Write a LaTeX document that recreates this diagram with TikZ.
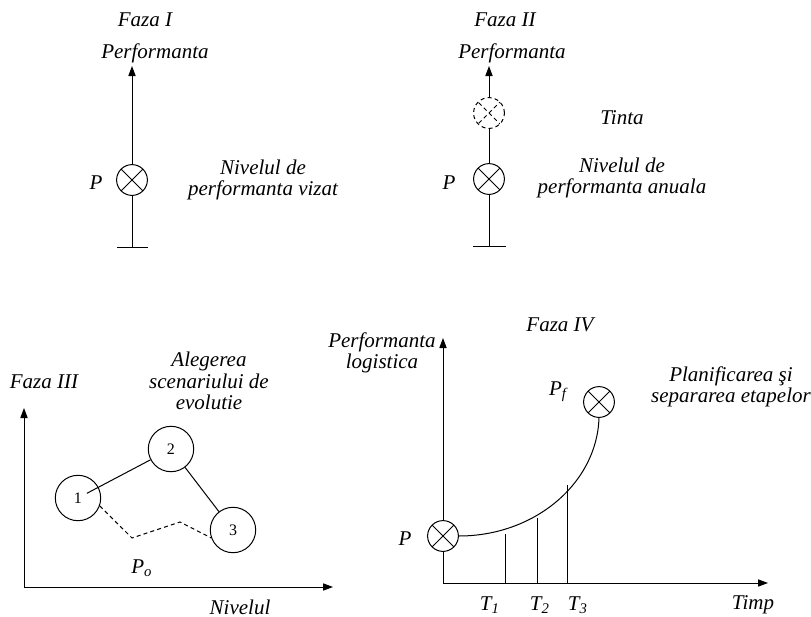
\documentclass[tikz,border=0pt]{standalone}
\usepackage{fontspec}
\setmainfont{Liberation Serif}
\usetikzlibrary{arrows.meta}

\begin{document}
\begin{tikzpicture}[x=0.5pt, y=-0.5pt, >={Triangle[length=5pt,width=3.6pt]},
    line width=0.5pt,
    every node/.style={font=\itshape\fontsize{10.5}{10.8}\selectfont, align=center},
    dashline/.style={dash pattern=on 2pt off 1.6pt},
    xcirc/.style={circle, draw, inner sep=0pt, minimum size=15.4pt,
      path picture={\draw[#1] (path picture bounding box.south west) -- (path picture bounding box.north east)
                              (path picture bounding box.north west) -- (path picture bounding box.south east);}},
    xcirc/.default=solid,
    numcirc/.style={circle, draw, inner sep=0pt, minimum size=22.7pt,
      font=\upshape\fontsize{8}{9}\selectfont}]
    \useasboundingbox (0,0) rectangle (811,617);

    % Faza I
    \node (faza1) at (145,20) {Faza I};
    \node (perf1) at (155,53) {Performanta};
    \node[xcirc] (p1) at (132,180) {};
    \node (lp1) at (96,183) {P};
    \node (niv1) at (263,180) {Nivelul de\\performanta vizat};
    \coordinate (top1) at (132,66);
    \coordinate (bot1) at (132,247);
    \coordinate (bl1) at (117,247);
    \coordinate (br1) at (148,247);
    \draw[->] (p1) -- (top1);
    \draw (p1) -- (bot1) (bl1) -- (br1);

    % Faza II
    \node (faza2) at (505,20) {Faza II};
    \node (perf2) at (512,53) {Performanta};
    \node[xcirc=dashline, dashline] (t2) at (489,113) {};
    \node[xcirc] (p2) at (489,179) {};
    \node (lp2) at (449,183) {P};
    \node (tinta) at (622,118) {Tinta};
    \node (niv2) at (622,178) {Nivelul de\\performanta anuala};
    \coordinate (top2) at (489,66);
    \coordinate (bot2) at (489,246);
    \coordinate (bl2) at (473,246);
    \coordinate (br2) at (506,246);
    \draw[->] (t2) -- (top2);
    \draw (t2) -- (p2) (p2) -- (bot2) (bl2) -- (br2);

    % Faza III
    \node (faza3) at (44,382) {Faza III};
    \node (aleg) at (209,381) {Alegerea\\scenariului de\\evolutie};
    \coordinate (o3) at (24,587);
    \coordinate (y3) at (24,408);
    \coordinate (x3) at (333,587);
    \draw[<->] (y3) -- (o3) -- (x3);
    \node[numcirc] (s1) at (78,498) {1};
    \node[numcirc] (s2) at (171,449) {2};
    \node[numcirc] (s3) at (233,530) {3};
    \draw[shorten <=5pt] (s1.center) -- (s2);
    \draw (s2) -- (s3);
    \coordinate (d1) at (132,538);
    \coordinate (d2) at (180,522);
    \draw[dashline] (s1.-20) -- (d1) -- (d2) -- (s3.200);
    \node (po) at (142,568) {P\textsubscript{o}};
    \node (niv3) at (240,607) {Nivelul};

    % Faza IV
    \node (faza4) at (560,325) {Faza IV};
    \node (perf4) at (382,353) {Performanta\\logistica};
    \coordinate (o4) at (443,583);
    \coordinate (y4) at (443,338);
    \coordinate (x4) at (768,583);
    \node[xcirc] (p4) at (443,536) {};
    \node[xcirc] (pf) at (599,402) {};
    \node (lp4) at (405,539) {P};
    \node (lpf) at (558,392) {P\textsubscript{f}};
    \node (plan) at (731,387) {Planificarea şi\\separarea etapelor};
    \draw[->] (p4) -- (y4);
    \draw[->] (p4) -- (o4) -- (x4);
    \draw (p4.east) .. controls (535,536) and (597,483) .. (pf.south);
    \coordinate (t1) at (505,583);
    \coordinate (c1) at (505,534);
    \coordinate (t2) at (537,583);
    \coordinate (c2) at (537,518);
    \coordinate (t3) at (567,583);
    \coordinate (c3) at (567,485);
    \draw (t1) -- (c1) (t2) -- (c2) (t3) -- (c3);
    \node (lt1) at (490,605) {T\textsubscript{1}};
    \node (lt2) at (540,605) {T\textsubscript{2}};
    \node (lt3) at (578,605) {T\textsubscript{3}};
    \node (timp) at (753,605) {Timp};
\end{tikzpicture}
\end{document}
